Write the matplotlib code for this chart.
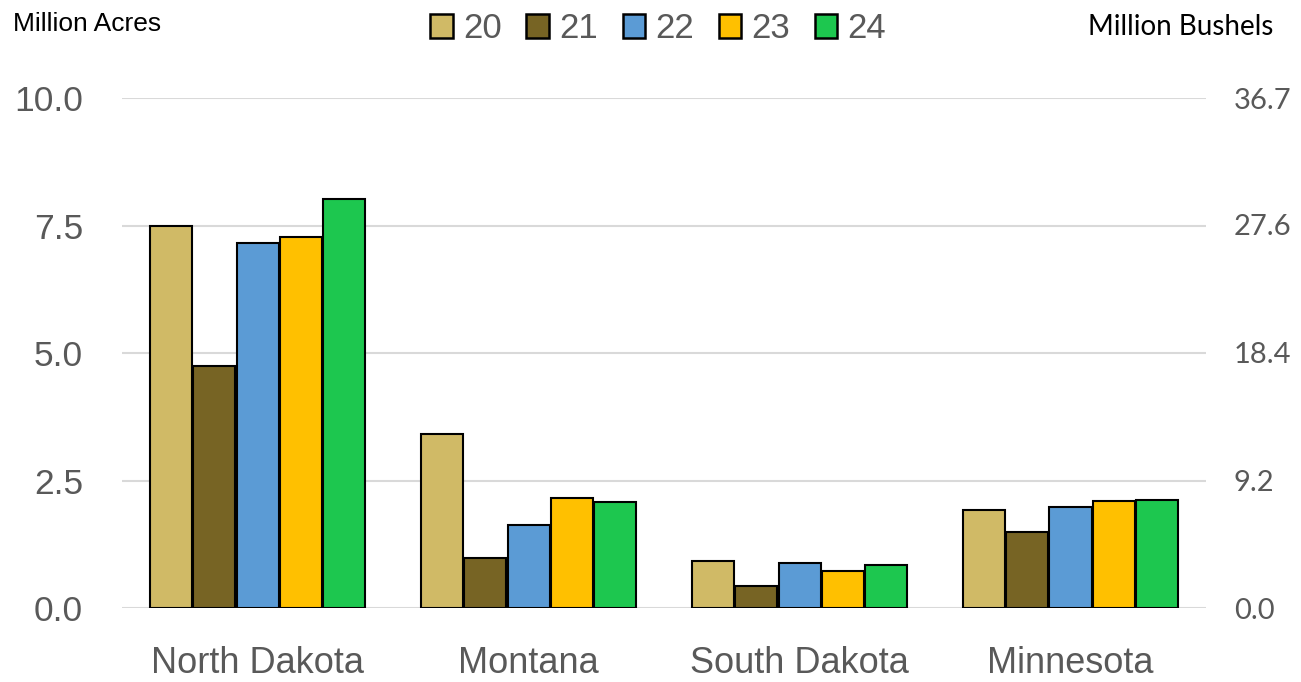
import matplotlib
matplotlib.use("Agg")
import matplotlib.pyplot as plt
import numpy as np

states = ["North Dakota", "Montana", "South Dakota", "Minnesota"]
years = ["20", "21", "22", "23", "24"]
v20 = [7.49, 3.41, 0.92, 1.92]
v21 = [4.75, 0.98, 0.43, 1.49]
v22 = [7.16, 1.63, 0.88, 1.98]
v23 = [7.27, 2.16, 0.73, 2.10]
v24 = [8.02, 2.08, 0.84, 2.12]
left_ticks = [0.0, 2.5, 5.0, 7.5, 10.0]
right_ticks = [0.0, 9.2, 18.4, 27.6, 36.7]
colors = ["#D0BA66", "#776424", "#5B9BD5", "#FFC000", "#1DC74F"]

narrow = ["Liberation Sans", "DejaVu Sans"]
gothic = ["Lato", "DejaVu Sans"]

fig = plt.figure(figsize=(13.01, 6.82), dpi=100)
ax = fig.add_axes([0.0938, 0.1085, 0.8332, 0.7478])

series = [v20, v21, v22, v23, v24]
x = np.arange(len(states))
w = 0.16
for i, (vals, c, lab) in enumerate(zip(series, colors, years)):
    ax.bar(x + (i - 2) * w, vals, width=w * 0.97, color=c, edgecolor="black",
           linewidth=1.5, label=lab, zorder=3)

ax.set_xlim(-0.5, 3.5)
ax.set_ylim(0, 10)
ax.set_yticks(left_ticks)
ax.set_yticklabels([f"{t:.1f}" for t in left_ticks], fontsize=25.5, color="#595959",
                   family=narrow)
ax.set_xticks(x)
ax.set_xticklabels(states, fontsize=26, color="#595959", family=narrow)
ax.tick_params(axis="both", length=0)
ax.tick_params(axis="y", pad=28)
ax.tick_params(axis="x", pad=27)
ax.grid(axis="y", color="#D9D9D9", linewidth=1.5, zorder=0)
for s in ax.spines.values():
    s.set_visible(False)

ax2 = ax.twinx()
ax2.set_ylim(0, 36.7)
ax2.set_yticks(right_ticks)
ax2.set_yticklabels([f"{t:.1f}" for t in right_ticks], fontsize=21, color="#595959",
                    family=gothic)
ax2.tick_params(axis="y", length=0, pad=20)
for s in ax2.spines.values():
    s.set_visible(False)

fig.text(0.01, 0.965, "Million Acres", fontsize=19, color="black", family=narrow,
         va="center", ha="left")
fig.text(0.979, 0.96, "Million Bushels", fontsize=20, color="black", family=gothic,
         va="center", ha="right")

leg = fig.legend(loc="center", bbox_to_anchor=(0.506, 0.958), ncol=5, frameon=False,
                 handlelength=0.65, handleheight=0.65, handletextpad=0.3,
                 columnspacing=0.7, prop={"family": narrow, "size": 25})
for t in leg.get_texts():
    t.set_color("#595959")
for h in leg.legend_handles:
    h.set_linewidth(1.8)

fig.savefig("out.png", dpi=100)
